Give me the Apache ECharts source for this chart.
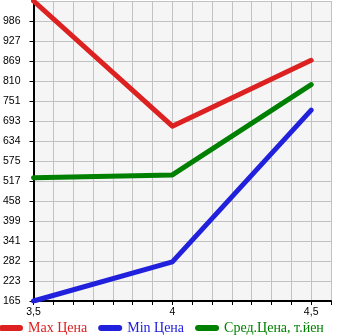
<!DOCTYPE html>
<html>
<head>
<meta charset="utf-8">
<script src="https://cdn.jsdelivr.net/npm/echarts@6/dist/echarts.min.js"></script>
<style>
html,body{margin:0;padding:0;background:#fff;}
#chart{width:345px;height:335px;}
</style>
</head>
<body>
<div id="chart"></div>
<script>
// Data
var xValues = [3.5, 4, 4.5];
var maxPrice = [1045, 678, 871];
var minPrice = [165.25, 280, 725];
var avgPrice = [527, 535, 800];
var seriesNames = ['Max Цена', 'Min Цена', 'Сред.Цена, т.йен'];
var seriesColors = ['#dd2020', '#2020dd', '#008000'];
var xLabelMap = [[3.5, '3,5'], [4, '4'], [4.5, '4,5']];

var yMin = 165.25, yStep = 58.65, yMax = yMin + 15 * yStep;
var xMin = 3.5, xStep = 1 / 14, xMax = xMin + 15 * xStep;

function pairs(vals) {
  return xValues.map(function (x, i) { return [x, vals[i]]; });
}
var allData = [maxPrice, minPrice, avgPrice];

var chart = echarts.init(document.getElementById('chart'), null, {renderer: 'canvas'});
var capsule = 'path://M3,0 L21,0 A3,3 0 0 1 21,6 L3,6 A3,3 0 0 1 3,0 Z';

chart.setOption({
  animation: false,
  backgroundColor: '#ffffff',
  grid: {
    left: 31, right: 14, top: 1, bottom: 34,
    show: true, backgroundColor: '#f5f5f5', borderWidth: 0
  },
  legend: {
    left: -1, top: 321, padding: 0,
    itemWidth: 24, itemHeight: 6, itemGap: 11, itemTextGap: 6,
    icon: capsule,
    textStyle: {fontFamily: 'Liberation Serif', fontSize: 14},
    data: seriesNames.map(function (n, i) {
      return {name: n, itemStyle: {color: seriesColors[i]}, textStyle: {color: seriesColors[i]}};
    })
  },
  xAxis: {
    type: 'value', min: xMin, max: xMax, interval: xStep,
    axisLine: {show: true, onZero: false, lineStyle: {color: '#000', width: 2}},
    axisTick: {show: true, length: 4, lineStyle: {color: '#000', width: 1}},
    splitLine: {show: true, lineStyle: {color: '#c2c2c2', width: 1}},
    axisLabel: {
      margin: 6, color: '#000', fontFamily: 'Liberation Sans', fontSize: 10.5,
      showMinLabel: true, showMaxLabel: true, hideOverlap: false,
      formatter: function (v) {
        for (var i = 0; i < xLabelMap.length; i++) {
          if (Math.abs(v - xLabelMap[i][0]) < 1e-3) return xLabelMap[i][1];
        }
        return '';
      }
    }
  },
  yAxis: {
    type: 'value', min: yMin, max: yMax, interval: yStep,
    axisLine: {show: true, onZero: false, lineStyle: {color: '#000', width: 2}},
    axisTick: {show: true, length: 4, lineStyle: {color: '#000', width: 1}},
    splitLine: {show: true, lineStyle: {color: '#c2c2c2', width: 1}},
    axisLabel: {
      margin: 13, color: '#000', fontFamily: 'Liberation Sans', fontSize: 10.5,
      showMaxLabel: false,
      formatter: function (v) {
        if (v > yMax - 1) return '';
        return String(Math.floor(v + 1e-6));
      }
    }
  },
  series: seriesNames.map(function (n, i) {
    return {
      name: n, type: 'line', data: pairs(allData[i]),
      showSymbol: false, symbol: 'none',
      color: seriesColors[i],
      lineStyle: {width: 5, color: seriesColors[i], cap: 'round', join: 'round'}
    };
  })
});
</script>
</body>
</html>
